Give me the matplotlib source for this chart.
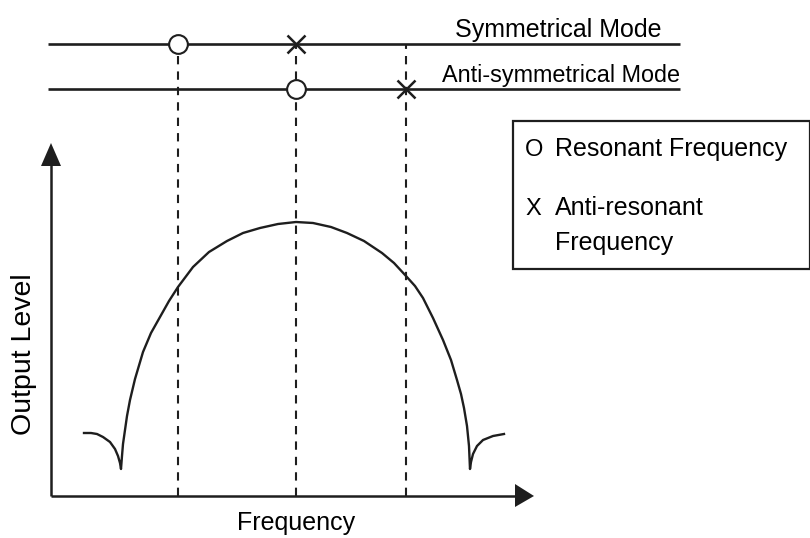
import matplotlib
matplotlib.use("Agg")
import matplotlib.pyplot as plt
from matplotlib.patches import Polygon, Rectangle

# ---- data (frequency / output level in arbitrary drawing units) ----
curve_freq = [33, 40, 46, 52, 59, 64, 67, 69, 70, 71, 72, 74, 76, 79, 84, 92,
              100, 109, 118, 127, 142, 158, 176, 192, 209, 227, 245, 262, 280,
              296, 313, 331, 343, 355, 364, 372, 382, 392, 400, 406, 410, 413,
              416, 418, 419, 420, 422, 426, 432, 442, 453]
curve_level = [63, 63, 62, 59, 54, 47, 40, 33, 27, 40, 52, 66, 80, 96, 117, 144,
               163, 179, 195, 209, 229, 244, 255, 263, 268, 272, 274, 273, 269,
               263, 255, 243, 233, 220, 210, 198, 178, 156, 136, 116, 102, 88,
               70, 50, 27, 34, 42, 50, 56, 60, 62]
resonant_freq = {"Symmetrical Mode": 127, "Anti-symmetrical Mode": 245}
antiresonant_freq = {"Symmetrical Mode": 245, "Anti-symmetrical Mode": 355}
mode_level = {"Symmetrical Mode": 452, "Anti-symmetrical Mode": 407}
mode_label_x = {"Symmetrical Mode": 404, "Anti-symmetrical Mode": 391}
mode_label_size = {"Symmetrical Mode": 18, "Anti-symmetrical Mode": 16.8}
dashed_freqs = [127, 245, 355]

ink = "#1e1e1e"
plt.rcParams['font.family'] = ['Liberation Sans', 'DejaVu Sans']

fig = plt.figure(figsize=(8.10, 5.38), dpi=100)
ax = fig.add_axes([0, 0, 1, 1])
ax.set_xlim(-51, 759)
ax.set_ylim(-42, 496)
ax.axis("off")

# mode lines
for name, lvl in mode_level.items():
    ax.plot([-3, 629], [lvl, lvl], color=ink, lw=1.9, solid_capstyle="butt")
    ax.text(mode_label_x[name], lvl + 7, name, fontsize=mode_label_size[name],
            color="black", ha="left", va="baseline")

# dashed guide lines
for f in dashed_freqs:
    ax.plot([f, f], [0, mode_level["Symmetrical Mode"]], color=ink, lw=1.5,
            linestyle=(0, (4.0, 3.4)))

# markers
for name, f in resonant_freq.items():
    ax.plot(f, mode_level[name], marker="o", ms=13.5, mfc="white", mec=ink,
            mew=1.5, zorder=5)
for name, f in antiresonant_freq.items():
    ax.plot(f, mode_level[name], marker="x", ms=13, mec=ink, mew=1.8, zorder=5)

# axes with arrows
ax.plot([0, 0], [0, 335], color=ink, lw=1.8, solid_capstyle="butt")
ax.plot([0, 466], [0, 0], color=ink, lw=1.8, solid_capstyle="butt")
ax.add_patch(Polygon([[-10, 330], [10, 330], [0, 353]], closed=True,
                     color=ink, lw=0))
ax.add_patch(Polygon([[464, 12], [464, -11], [483, 0]], closed=True,
                     color=ink, lw=0))

# response curve
ax.plot(curve_freq, curve_level, color=ink, lw=1.7, solid_joinstyle="round")

# axis labels
ax.text(245, -34, "Frequency", fontsize=18, ha="center", va="baseline")
ax.text(-27, 142, "Output Level", fontsize=20.5, rotation=90,
        ha="center", va="center")

# legend box
ax.add_patch(Rectangle((462, 227), 296.5, 148, fill=False, ec=ink, lw=1.6))
ax.text(474, 340, "O", fontsize=17, ha="left", va="baseline")
ax.text(504, 340, "Resonant Frequency", fontsize=18, ha="left", va="baseline")
ax.text(474, 281, "X", fontsize=17, ha="left", va="baseline")
ax.text(504, 281, "Anti-resonant", fontsize=18, ha="left", va="baseline")
ax.text(504, 246, "Frequency", fontsize=18, ha="left", va="baseline")

fig.savefig("out.png", dpi=100)
